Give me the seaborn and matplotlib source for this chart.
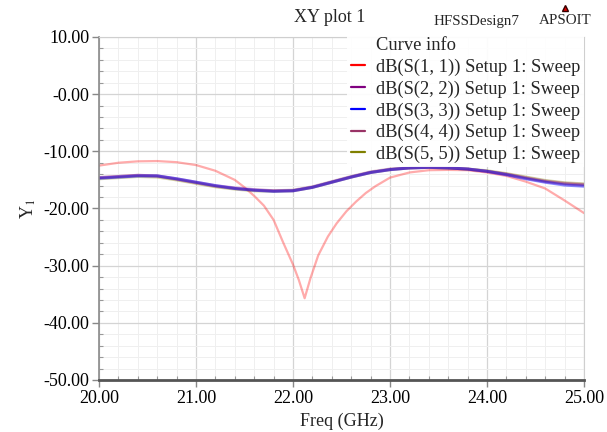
import matplotlib
matplotlib.use("Agg")
import matplotlib.pyplot as plt
from matplotlib.lines import Line2D
from matplotlib.ticker import MultipleLocator, FuncFormatter
import numpy as np
import pandas as pd
import seaborn as sns

# ---- data (dB return loss vs frequency) ----
freq_s11 = [20.0, 20.2, 20.4, 20.6, 20.8, 21.0, 21.2, 21.4, 21.5, 21.6, 21.7,
            21.8, 21.9, 22.0, 22.06, 22.12, 22.18, 22.26, 22.36, 22.45, 22.55,
            22.65, 22.75, 22.85, 23.0, 23.2, 23.4, 23.6, 23.8, 24.0, 24.2,
            24.4, 24.6, 24.8, 25.0]
s11 = [-12.5, -12.0, -11.75, -11.7, -11.9, -12.4, -13.4, -15.0, -16.3, -17.8,
       -19.5, -22.0, -26.0, -29.8, -32.5, -35.7, -32.2, -28.2, -24.9, -22.6,
       -20.5, -18.8, -17.3, -16.1, -14.6, -13.7, -13.3, -13.25, -13.3, -13.7,
       -14.3, -15.3, -16.5, -18.6, -20.8]

freq = [20.0, 20.2, 20.4, 20.6, 20.8, 21.0, 21.2, 21.4, 21.6, 21.8, 22.0,
        22.2, 22.4, 22.6, 22.8, 23.0, 23.2, 23.4, 23.6, 23.8, 24.0, 24.2,
        24.4, 24.6, 24.8, 25.0]
s22 = [-14.6, -14.4, -14.2, -14.3, -14.8, -15.4, -16.0, -16.4, -16.7, -16.9,
       -16.9, -16.3, -15.4, -14.5, -13.7, -13.2, -12.9, -12.8, -12.9, -13.1,
       -13.5, -14.0, -14.7, -15.3, -15.7, -15.9]
s33 = [-14.7, -14.5, -14.3, -14.3, -14.8, -15.4, -16.0, -16.5, -16.8, -17.0,
       -16.9, -16.3, -15.4, -14.5, -13.7, -13.2, -12.9, -12.8, -12.9, -13.1,
       -13.5, -14.1, -14.8, -15.4, -15.9, -16.1]
s44 = [-14.6, -14.4, -14.2, -14.3, -14.9, -15.5, -16.1, -16.5, -16.8, -16.9,
       -16.8, -16.2, -15.3, -14.4, -13.6, -13.1, -12.9, -12.8, -12.9, -13.1,
       -13.5, -14.0, -14.6, -15.2, -15.6, -15.8]
s55 = [-14.8, -14.6, -14.4, -14.5, -15.0, -15.6, -16.2, -16.6, -16.9, -17.0,
       -16.9, -16.3, -15.4, -14.5, -13.7, -13.2, -12.9, -12.8, -12.9, -13.1,
       -13.4, -13.9, -14.5, -15.1, -15.5, -15.7]

labels = ["dB(S(1, 1)) Setup 1: Sweep", "dB(S(2, 2)) Setup 1: Sweep",
          "dB(S(3, 3)) Setup 1: Sweep", "dB(S(4, 4)) Setup 1: Sweep",
          "dB(S(5, 5)) Setup 1: Sweep"]
colors = ["#ff0000", "#800080", "#0000ff", "#993366", "#808000"]

x_ticks = [20.0, 21.0, 22.0, 23.0, 24.0, 25.0]
y_ticks = [10.0, 0.0, -10.0, -20.0, -30.0, -40.0, -50.0]

rows = [(f, v, labels[0]) for f, v in zip(freq_s11, s11)]
for lab, vals in zip(labels[1:], [s22, s33, s44, s55]):
    rows += [(f, v, lab) for f, v in zip(freq, vals)]
df = pd.DataFrame(rows, columns=["freq", "db", "curve"])

sns.set_theme(style="white")
plt.rcParams["font.family"] = ["Liberation Serif", "DejaVu Serif"]
plt.rcParams["mathtext.fontset"] = "stix"

fig = plt.figure(figsize=(6.07, 4.32), dpi=100)
ax = fig.add_axes([99 / 607, 52 / 432, 485 / 607, 343 / 432])

palette = dict(zip(labels, colors))
# port 1 reflection drawn faint; the near-identical ports 2-5 on top
sns.lineplot(data=df[df.curve == labels[0]], x="freq", y="db", color=colors[0],
             alpha=0.33, lw=1.6, ax=ax, legend=False)
draw_order = [labels[4], labels[3], labels[1], labels[2]]
alphas = [0.35, 0.35, 0.35, 0.45]
for lab, a in zip(draw_order, alphas):
    sns.lineplot(data=df[df.curve == lab], x="freq", y="db", color=palette[lab],
                 alpha=a, lw=2.2, ax=ax, legend=False)

ax.set_xlim(20.0, 25.0)
ax.set_ylim(-50.0, 10.0)
ax.set_xticks(x_ticks)
ax.set_yticks(y_ticks)
ax.xaxis.set_minor_locator(MultipleLocator(0.2))
ax.yaxis.set_minor_locator(MultipleLocator(2.0))
ax.xaxis.set_major_formatter(FuncFormatter(lambda v, p: f"{v:.2f}"))
ax.yaxis.set_major_formatter(
    FuncFormatter(lambda v, p: "-0.00" if abs(v) < 1e-9 else f"{v:.2f}"))

ax.grid(which="major", color="#d4d4d4", lw=0.9)
ax.grid(which="minor", color="#efefef", lw=0.7)
ax.set_axisbelow(True)

for side in ["top", "right"]:
    ax.spines[side].set_color("#cfcfcf")
    ax.spines[side].set_linewidth(0.8)
ax.spines["left"].set_color("#8a8a8a")
ax.spines["left"].set_linewidth(1.2)
ax.spines["bottom"].set_color("#555555")
ax.spines["bottom"].set_linewidth(2.0)

ax.tick_params(which="major", direction="out", length=5, width=1.0,
               color="#888888", labelsize=13, labelcolor="black", pad=2,
               left=True, bottom=True)
ax.tick_params(which="minor", direction="in", length=3, width=0.8,
               color="#999999", left=True, bottom=True)

ax.set_xlabel("Freq (GHz)", fontsize=13, labelpad=4)
ax.set_ylabel("Y$_1$", fontsize=13, labelpad=4)

handles = [Line2D([], [], color="none")]
handles += [Line2D([], [], color=c, lw=1.6) for c in colors]
leg = ax.legend(handles, ["Curve info"] + labels, loc="upper right",
                bbox_to_anchor=(1.0, 1.01), borderaxespad=0.0, fontsize=13.3,
                frameon=True, facecolor="white", edgecolor="none",
                framealpha=0.92, handlelength=0.75, handletextpad=0.6,
                labelspacing=0.24, borderpad=0.2)
leg.get_frame().set_boxstyle("square", pad=0)

fig.text(330 / 607, 1 - 18 / 432, "XY plot 1", ha="center", va="center",
         fontsize=13)
fig.text(476 / 607, 1 - 21 / 432, "HFSSDesign7", ha="center", va="center",
         fontsize=10.8)
fig.text(565 / 607, 1 - 21 / 432, "APSOIT", ha="center", va="center",
         fontsize=10.8)
fig.add_artist(Line2D([565 / 607], [1 - 8 / 432], marker="^", markersize=5,
                      color="#dd0000", markeredgecolor="#330000",
                      transform=fig.transFigure))

fig.savefig("out.png", dpi=100, facecolor="white")
